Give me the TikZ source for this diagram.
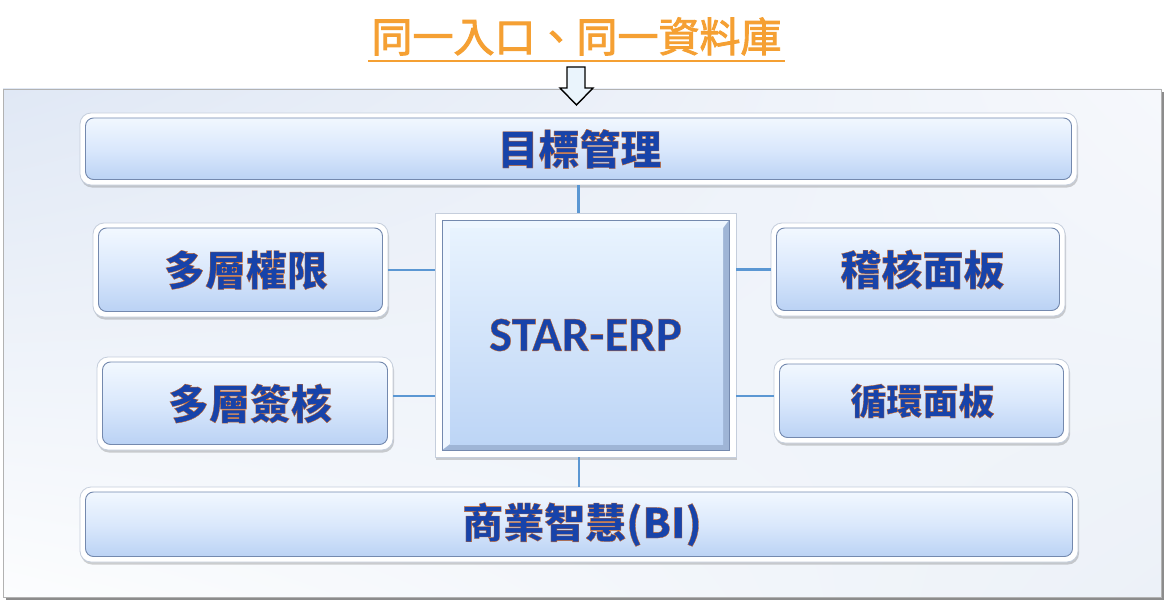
\documentclass[tikz,border=0pt]{standalone}
\usepackage{fontspec}
\setmainfont{Carlito}
\newfontfamily\cjk{Noto Sans CJK TC}
\newfontfamily\calib{Carlito}
\usetikzlibrary{shadows,shadings}

\definecolor{txtblue}{HTML}{1743AA}
\definecolor{titleor}{HTML}{F5A033}
\definecolor{connc}{HTML}{5B97D3}
\definecolor{rim}{HTML}{C5CEDC}
\definecolor{gtop}{HTML}{F5FAFF}
\definecolor{gmid}{HTML}{DAE8FC}
\definecolor{gbot}{HTML}{B6CFF3}
\definecolor{gedge}{HTML}{7489AE}
\definecolor{bevlight}{HTML}{EEF6FF}
\definecolor{bevdark}{HTML}{9FB5D6}
\definecolor{ftop}{HTML}{E8F3FE}
\definecolor{fbot}{HTML}{BDD5F6}
\definecolor{frameUL}{HTML}{E0E8F5}
\definecolor{frameUR}{HTML}{F6F8FC}
\definecolor{frameLL}{HTML}{FCFDFE}
\definecolor{frameLR}{HTML}{ECF1F8}
\definecolor{arrowfill}{HTML}{EAF4FC}

\newcommand\outl[1]{\special{pdf:literal direct 2 Tr 0.35 w 0.85 0.42 0.12 RG}#1\special{pdf:literal direct 0 Tr}}
\newcommand\thick[1]{\special{pdf:literal direct 2 Tr 0.9 w}#1\special{pdf:literal direct 0 Tr}}

\tikzset{
  gbox/.style={rounded corners=11pt, draw=rim, line width=0.8pt, fill=white,
    drop shadow={shadow xshift=1pt, shadow yshift=-2.5pt, opacity=0.3, fill=black!60},
    inner sep=0pt, text=txtblue, font=\cjk\bfseries\fontsize{41}{41}\selectfont,
    path picture={\shade[rounded corners=8pt, top color=gtop, bottom color=gbot, middle color=gmid, draw=gedge, line width=0.9pt]
      ([shift={(5.5pt,-5pt)}]path picture bounding box.north west) rectangle
      ([shift={(-5.5pt,5.5pt)}]path picture bounding box.south east);}},
  erpbox/.style={draw=rim, line width=0.8pt, fill=white,
    drop shadow={shadow xshift=1pt, shadow yshift=-2.5pt, opacity=0.3, fill=black!60},
    inner sep=0pt, text=txtblue, font=\calib\bfseries\fontsize{49}{49}\selectfont,
    path picture={
      \coordinate (p1) at ([shift={(7pt,-7pt)}]path picture bounding box.north west);
      \coordinate (p2) at ([shift={(-7pt,7pt)}]path picture bounding box.south east);
      \coordinate (q1) at ([shift={(15pt,-15pt)}]path picture bounding box.north west);
      \coordinate (q2) at ([shift={(-13pt,13pt)}]path picture bounding box.south east);
      \fill[bevdark] (p1) rectangle (p2);
      \fill[bevlight] (p1) -- (p1 -| p2) -- (q1 -| q2) -- (q1) -- (q1 |- q2) -- (p1 |- p2) -- cycle;
      \shade[top color=ftop, bottom color=fbot] (q1) rectangle (q2);
      \draw[gedge, line width=0.8pt] (p1) rectangle (p2);
    }},
  connline/.style={draw=connc, line width=2.8pt},
}

\begin{document}
\begin{tikzpicture}[x=1pt,y=-1pt]
\useasboundingbox (0,0) rectangle (1170,607);
\fill[white] (0,0) rectangle (1170,607);

% frame
\fill[black!45] (6,92) rectangle (1164,600);
\shade[upper left=frameUL, upper right=frameUR, lower left=frameLL, lower right=frameLR] (3,89) rectangle (1161,597);
\draw[black!30, line width=0.8pt] (3,89) rectangle (1161,597);

% title
\node[anchor=base, text=titleor, font=\cjk\fontsize{41}{41}\selectfont, inner xsep=3pt] (title) at (576.5,52) {\thick{同一入口、同一資料庫}};
\draw[titleor, line width=1.6pt] ([yshift=-9pt]title.base west) -- ([yshift=-9pt]title.base east);

% hollow arrow
\draw[black, line width=1.4pt, fill=arrowfill, line join=miter]
  (567,67) -- (585,67) -- (585,88) -- (593,88) -- (576.5,105) -- (560,88) -- (567,88) -- cycle;

% boxes
\node[gbox, minimum width=997pt, minimum height=72pt] (top) at (578.5,149) {\hspace*{2pt}\outl{目標管理}};
\node[gbox, minimum width=998pt, minimum height=75pt] (bot) at (579,524.5) {\hspace*{6pt}\outl{商業智慧(BI)}};
\node[gbox, minimum width=295pt, minimum height=94pt] (qx) at (240.5,270) {\hspace*{11pt}\outl{多層權限}};
\node[gbox, minimum width=296pt, minimum height=93pt] (qy) at (245,403.5) {\hspace*{10pt}\outl{多層簽核}};
\node[gbox, minimum width=294pt, minimum height=93pt] (jh) at (918,269.5) {\hspace*{9pt}\outl{稽核面板}};
\node[gbox, minimum width=295pt, minimum height=84pt, font=\cjk\bfseries\fontsize{36}{36}\selectfont] (xh) at (921.5,401) {\hspace*{2pt}\outl{循環面板}};
\node[erpbox, minimum width=301pt, minimum height=244pt] (erp) at (585.5,335) {\raisebox{-6.5pt}{\outl{STAR-ERP}}};

% connectors
\draw[connline] (top.south) -- (top.south |- erp.north);
\draw[connline] (bot.north) -- (bot.north |- erp.south);
\draw[connline] (qx.east) -- (qx.east -| erp.west);
\draw[connline] ([yshift=7.5pt]qy.east) -- ([yshift=7.5pt]qy.east -| erp.west);
\draw[connline] (jh.west) -- (jh.west -| erp.east);
\draw[connline] ([yshift=5pt]xh.west) -- ([yshift=5pt]xh.west -| erp.east);
\end{tikzpicture}
\end{document}
